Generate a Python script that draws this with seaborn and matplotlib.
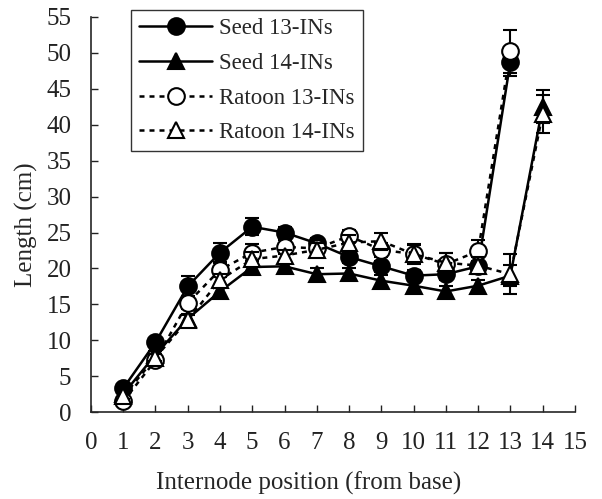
import numpy as np
import pandas as pd
import matplotlib
matplotlib.use("Agg")
import matplotlib.pyplot as plt
import seaborn as sns

x13 = list(range(1, 14))
x14 = list(range(1, 15))
seed13 = [3.3, 9.7, 17.5, 22.2, 25.8, 25.0, 23.5, 21.6, 20.3, 19.0, 19.2, 20.3, 48.8]
seed13_err = [0.5, 0.5, 1.4, 1.3, 1.2, 0.8, 0.7, 0.8, 0.8, 0.8, 0.8, 0.8, 2.0]
seed14 = [2.5, 8.0, 13.0, 16.8, 20.2, 20.3, 19.2, 19.3, 18.3, 17.6, 16.8, 17.6, 19.0, 42.5]
seed14_err = [0.4, 0.5, 0.7, 0.8, 0.8, 0.8, 0.8, 0.8, 0.8, 0.8, 0.8, 0.8, 1.5, 2.3]
rat13 = [1.5, 7.2, 15.2, 19.8, 22.2, 23.0, 22.8, 24.5, 22.6, 22.0, 20.6, 22.4, 50.2]
rat13_err = [0.4, 0.5, 0.8, 1.0, 1.2, 1.0, 1.0, 0.8, 1.0, 1.2, 1.6, 1.6, 3.0]
rat14 = [2.2, 7.6, 12.8, 18.4, 21.3, 21.8, 22.6, 23.6, 23.8, 22.0, 20.8, 20.4, 19.2, 41.5]
rat14_err = [0.4, 0.5, 0.7, 0.8, 1.0, 0.8, 0.9, 1.0, 1.2, 1.4, 1.4, 1.2, 2.8, 2.7]
x_ticks = list(range(0, 16))
y_ticks = list(range(0, 60, 5))

sns.set_style("ticks")
plt.rcParams['font.family'] = ['Liberation Serif', 'DejaVu Serif']

fig = plt.figure(figsize=(6.02, 4.99), dpi=100)
ax = fig.add_axes([0.151, 0.174, 0.804, 0.792])

series = [
    ("Seed 13-INs", x13, seed13, seed13_err, "o", "black", "-"),
    ("Seed 14-INs", x14, seed14, seed14_err, "^", "black", "-"),
    ("Ratoon 13-INs", x13, rat13, rat13_err, "o", "white", (0, (2, 2))),
    ("Ratoon 14-INs", x14, rat14, rat14_err, "^", "white", (0, (2, 2))),
]
for i, (name, xs, ys, es, mk, fc, ls) in enumerate(series):
    ax.errorbar(xs, ys, yerr=es, fmt="none", ecolor="black", elinewidth=1.5,
                capsize=5, capthick=1.5, zorder=2 + i)
    sns.lineplot(x=xs, y=ys, ax=ax, color="black", linestyle=ls, linewidth=1.8,
                 marker=mk, markersize=12, markerfacecolor=fc,
                 markeredgecolor="black", markeredgewidth=1.5, zorder=2.5 + i,
                 label=name)

ax.set_xlim(0, 15)
ax.set_ylim(0, 55)
ax.set_xticks(x_ticks)
ax.set_yticks(y_ticks)
ax.tick_params(direction="in", length=5, width=1, labelsize=18, colors="#222222")
ax.tick_params(axis="y", pad=14)
ax.tick_params(axis="x", pad=14)
for s in ["top", "right"]:
    ax.spines[s].set_visible(False)
for s in ["left", "bottom"]:
    ax.spines[s].set_linewidth(1.2)
ax.set_xlabel("Internode position (from base)", fontsize=18)
ax.set_ylabel("Length (cm)", fontsize=18)
ax.xaxis.set_label_coords(0.45, -0.15)
ax.yaxis.set_label_coords(-0.11, 0.475)

leg = ax.legend(loc="upper left", bbox_to_anchor=(131 / 602, 1 - 10 / 499),
                bbox_transform=fig.transFigure, fontsize=16.5, frameon=True,
                fancybox=False, edgecolor="black", handlelength=3.2,
                handletextpad=0.3, borderpad=0.35, labelspacing=0.6,
                borderaxespad=0)
leg.get_frame().set_linewidth(1.0)

fig.savefig("out.png", dpi=100)
